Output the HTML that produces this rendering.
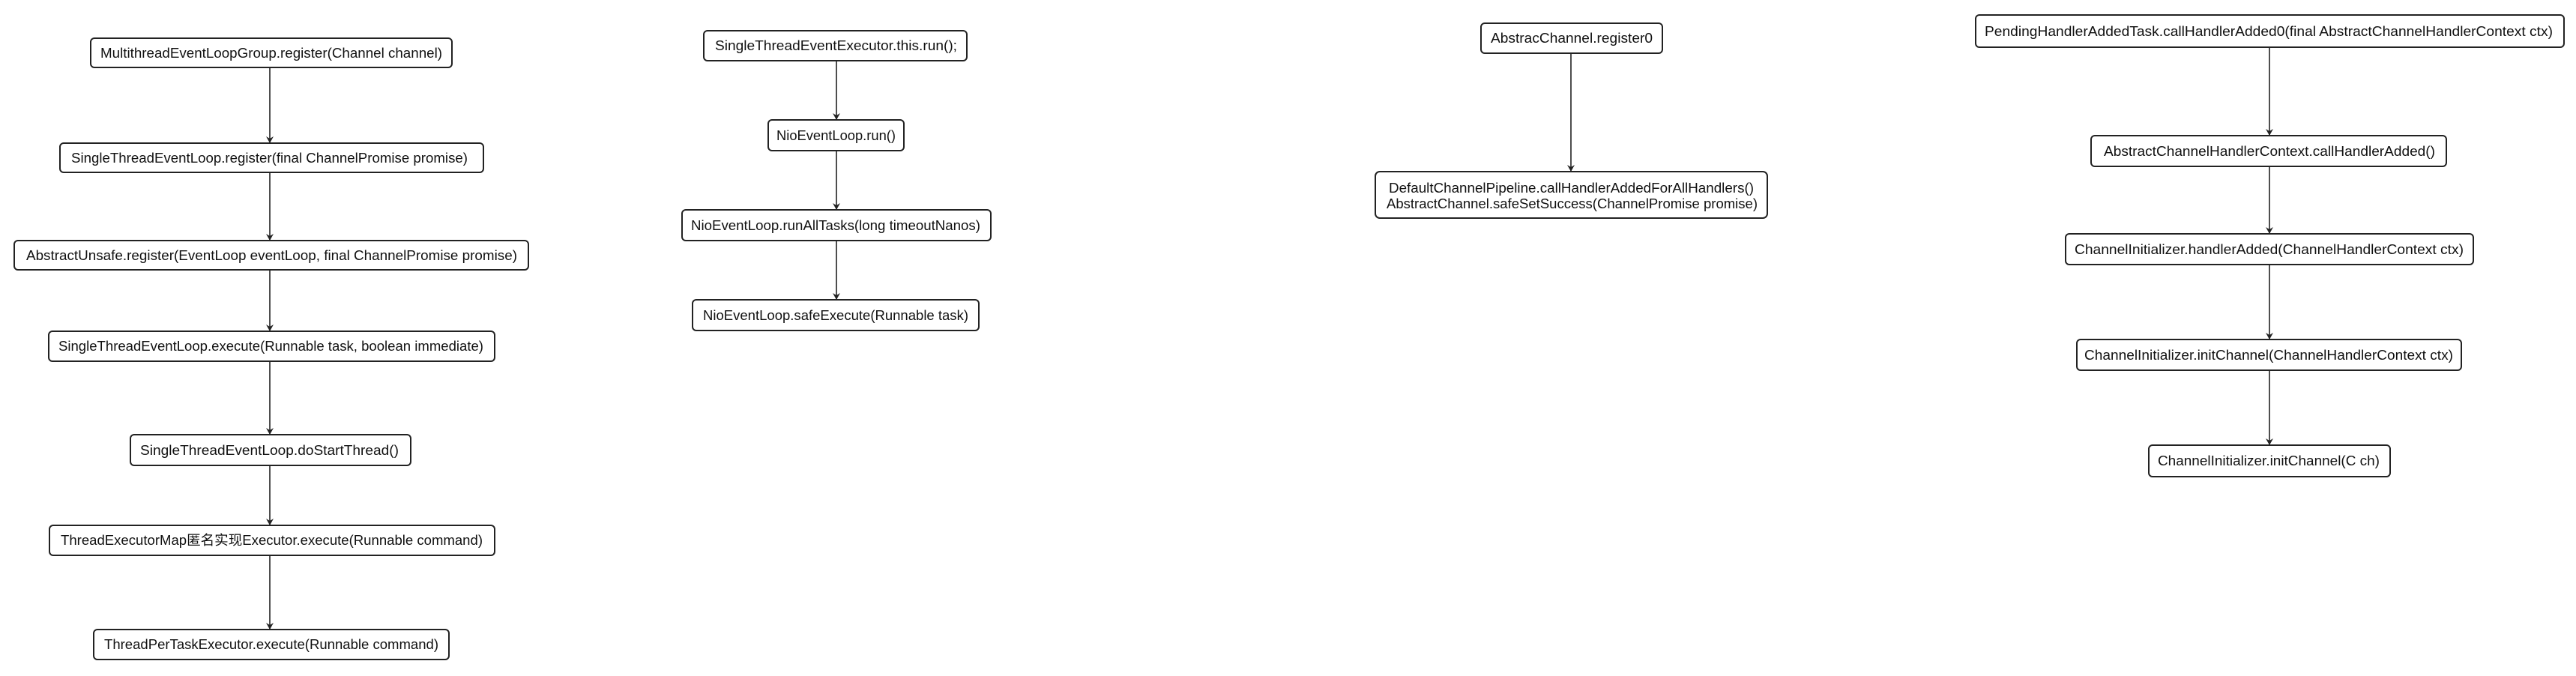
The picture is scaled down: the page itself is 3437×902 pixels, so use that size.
<!DOCTYPE html>
<html><head><meta charset="utf-8"><style>
html,body{margin:0;padding:0;background:#fff;}
svg{display:block;}
text{font-family:"Liberation Sans","Noto Sans CJK SC",sans-serif;font-size:18px;fill:#111;dominant-baseline:central;}
rect{fill:#fff;stroke:#222;stroke-width:2;}
line{stroke:#222;stroke-width:1.6;}
path.ah{fill:#222;stroke:#222;stroke-width:1;}
</style></head><body>
<svg width="3437" height="902" viewBox="0 0 3437 902" xmlns="http://www.w3.org/2000/svg">
<defs><marker id="a" markerWidth="10" markerHeight="10" refX="8" refY="5" orient="auto" markerUnits="userSpaceOnUse"><path d="M0,0 L9,5 L0,10 L3,5 Z" fill="#222"/></marker></defs>

<!-- Column 1 -->
<line x1="360" y1="90" x2="360" y2="190" marker-end="url(#a)"/>
<line x1="360" y1="230" x2="360" y2="320" marker-end="url(#a)"/>
<line x1="360" y1="360" x2="360" y2="441" marker-end="url(#a)"/>
<line x1="360" y1="482" x2="360" y2="579" marker-end="url(#a)"/>
<line x1="360" y1="621" x2="360" y2="700" marker-end="url(#a)"/>
<line x1="360" y1="741" x2="360" y2="839" marker-end="url(#a)"/>

<rect x="121" y="51" width="482" height="39" rx="5"/>
<text x="134" y="71" textLength="456" lengthAdjust="spacingAndGlyphs">MultithreadEventLoopGroup.register(Channel channel)</text>
<rect x="80" y="191" width="565" height="39" rx="5"/>
<text x="95" y="211" textLength="529" lengthAdjust="spacingAndGlyphs">SingleThreadEventLoop.register(final ChannelPromise promise)</text>
<rect x="19" y="321" width="686" height="39" rx="5"/>
<text x="35" y="341" textLength="655" lengthAdjust="spacingAndGlyphs">AbstractUnsafe.register(EventLoop eventLoop, final ChannelPromise promise)</text>
<rect x="65" y="442" width="595" height="40" rx="5"/>
<text x="78" y="462" textLength="567" lengthAdjust="spacingAndGlyphs">SingleThreadEventLoop.execute(Runnable task, boolean immediate)</text>
<rect x="174" y="580" width="374" height="41" rx="5"/>
<text x="187" y="601" textLength="345" lengthAdjust="spacingAndGlyphs">SingleThreadEventLoop.doStartThread()</text>
<rect x="66" y="701" width="594" height="40" rx="5"/>
<text x="81" y="721" textLength="563" lengthAdjust="spacingAndGlyphs">ThreadExecutorMap匿名实现Executor.execute(Runnable command)</text>
<rect x="125" y="840" width="474" height="40" rx="5"/>
<text x="139" y="860" textLength="446" lengthAdjust="spacingAndGlyphs">ThreadPerTaskExecutor.execute(Runnable command)</text>

<!-- Column 2 -->
<line x1="1116" y1="81" x2="1116" y2="159" marker-end="url(#a)"/>
<line x1="1116" y1="201" x2="1116" y2="279" marker-end="url(#a)"/>
<line x1="1116" y1="321" x2="1116" y2="399" marker-end="url(#a)"/>

<rect x="939" y="41" width="351" height="40" rx="5"/>
<text x="954" y="61" textLength="323" lengthAdjust="spacingAndGlyphs">SingleThreadEventExecutor.this.run();</text>
<rect x="1025" y="160" width="181" height="41" rx="5"/>
<text x="1036" y="181" textLength="159" lengthAdjust="spacingAndGlyphs">NioEventLoop.run()</text>
<rect x="910" y="280" width="412" height="41" rx="5"/>
<text x="922" y="301" textLength="386" lengthAdjust="spacingAndGlyphs">NioEventLoop.runAllTasks(long timeoutNanos)</text>
<rect x="924" y="400" width="382" height="41" rx="5"/>
<text x="938" y="421" textLength="354" lengthAdjust="spacingAndGlyphs">NioEventLoop.safeExecute(Runnable task)</text>

<!-- Column 3 -->
<line x1="2096" y1="71" x2="2096" y2="228" marker-end="url(#a)"/>
<rect x="1976" y="31" width="242" height="40" rx="5"/>
<text x="1989" y="51" textLength="216" lengthAdjust="spacingAndGlyphs">AbstracChannel.register0</text>
<rect x="1835" y="229" width="523" height="62" rx="6"/>
<text x="1853" y="251" textLength="487" lengthAdjust="spacingAndGlyphs">DefaultChannelPipeline.callHandlerAddedForAllHandlers()</text>
<text x="1850" y="272" textLength="495" lengthAdjust="spacingAndGlyphs">AbstractChannel.safeSetSuccess(ChannelPromise promise)</text>

<!-- Column 4 -->
<line x1="3028" y1="63" x2="3028" y2="180" marker-end="url(#a)"/>
<line x1="3028" y1="222" x2="3028" y2="311" marker-end="url(#a)"/>
<line x1="3028" y1="353" x2="3028" y2="452" marker-end="url(#a)"/>
<line x1="3028" y1="494" x2="3028" y2="593" marker-end="url(#a)"/>

<rect x="2636" y="20" width="785" height="43" rx="5"/>
<text x="2648" y="42" textLength="758" lengthAdjust="spacingAndGlyphs">PendingHandlerAddedTask.callHandlerAdded0(final AbstractChannelHandlerContext ctx)</text>
<rect x="2790" y="181" width="474" height="41" rx="5"/>
<text x="2807" y="202" textLength="442" lengthAdjust="spacingAndGlyphs">AbstractChannelHandlerContext.callHandlerAdded()</text>
<rect x="2756" y="312" width="544" height="41" rx="5"/>
<text x="2768" y="333" textLength="519" lengthAdjust="spacingAndGlyphs">ChannelInitializer.handlerAdded(ChannelHandlerContext ctx)</text>
<rect x="2771" y="453" width="513" height="41" rx="5"/>
<text x="2781" y="474" textLength="492" lengthAdjust="spacingAndGlyphs">ChannelInitializer.initChannel(ChannelHandlerContext ctx)</text>
<rect x="2867" y="594" width="322" height="42" rx="5"/>
<text x="2879" y="615" textLength="296" lengthAdjust="spacingAndGlyphs">ChannelInitializer.initChannel(C ch)</text>
</svg>
</body></html>
